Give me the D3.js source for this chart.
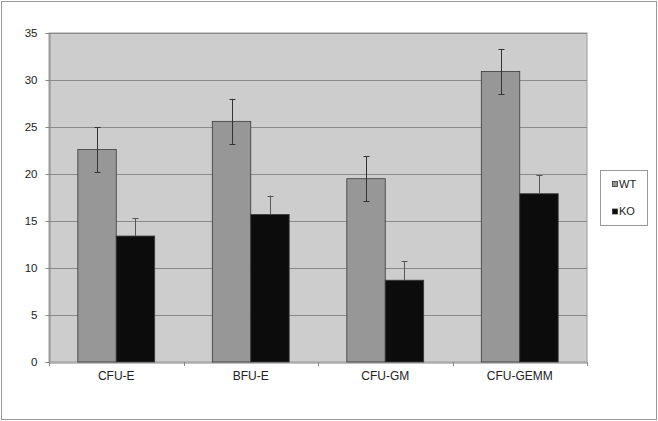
<!DOCTYPE html>
<html>
<head>
<meta charset="utf-8">
<script src="https://cdn.jsdelivr.net/npm/d3@7"></script>
<style>
  body { margin: 0; background: #fff; }
  text { font-family: "Liberation Sans", Arial, sans-serif; fill: #222; }
</style>
</head>
<body>
<svg id="chart" width="658" height="421"></svg>
<script>
// data
const categories = ["CFU-E", "BFU-E", "CFU-GM", "CFU-GEMM"];
const seriesNames = ["WT", "KO"];
const wtValues = [22.6, 25.6, 19.5, 30.9];
const wtErrors = [2.4, 2.4, 2.4, 2.4];
const koValues = [13.4, 15.7, 8.7, 17.9];
const koErrors = [1.9, 2.0, 2.0, 2.0];
const yTicks = [0, 5, 10, 15, 20, 25, 30, 35];

const colors = { WT: "#979797", KO: "#0c0c0c" };

var svg = d3.select("#chart");

// outer frame
svg.append("rect")
  .attr("x", 1.5).attr("y", 1.5)
  .attr("width", 655).attr("height", 418)
  .attr("fill", "#fff")
  .attr("stroke", "#999");

var plot = { left: 49, top: 33, right: 587, bottom: 362 };

var x = d3.scaleBand()
  .domain(categories)
  .range([plot.left, plot.right]);

// two bars + gap of 1.5 bars per category
var barW = x.bandwidth() / 3.5;

var xInner = d3.scaleBand()
  .domain(seriesNames)
  .range([barW * 0.75, barW * 2.75]);

var y = d3.scaleLinear()
  .domain([0, 35])
  .range([plot.bottom, plot.top]);

// plot background
svg.append("rect")
  .attr("x", plot.left).attr("y", plot.top)
  .attr("width", plot.right - plot.left)
  .attr("height", plot.bottom - plot.top)
  .attr("fill", "#cdcdcd")
  .attr("stroke", "#9a9a9a");

// gridlines
svg.append("g")
  .selectAll("line")
  .data(yTicks.slice(1))
  .enter()
  .append("line")
  .attr("x1", plot.left).attr("x2", plot.right)
  .attr("y1", d => y(d) + 0.5).attr("y2", d => y(d) + 0.5)
  .attr("stroke", "#8a8a8a");

// y axis
var yAxis = svg.append("g")
  .attr("transform", "translate(" + (plot.left + 0.5) + ",0)")
  .call(d3.axisLeft(y).tickValues(yTicks).tickSize(4).tickPadding(8));
yAxis.selectAll("text").attr("font-size", 11.5).style("fill", "#222");
yAxis.select(".domain").attr("stroke", "#888");
yAxis.selectAll(".tick line").attr("stroke", "#888");
yAxis.selectAll(".tick").attr("transform", d => "translate(0," + (y(d) + 0.5) + ")");

// x axis
var xAxis = svg.append("g")
  .attr("transform", "translate(0," + (plot.bottom + 0.5) + ")")
  .call(d3.axisBottom(x).tickSize(0).tickPadding(9));
xAxis.select(".domain").attr("stroke", "#888");
xAxis.selectAll("text").attr("font-size", 12).style("fill", "#222");

// x ticks at category boundaries
svg.append("g")
  .selectAll("line")
  .data(categories.concat(["end"]))
  .enter()
  .append("line")
  .attr("x1", (d, i) => Math.round(plot.left + i * x.step()) + 0.5)
  .attr("x2", (d, i) => Math.round(plot.left + i * x.step()) + 0.5)
  .attr("y1", plot.bottom).attr("y2", plot.bottom + 4)
  .attr("stroke", "#888");

var rows = categories.map(function(c, i) {
  return [
    { cat: c, key: "WT", v: wtValues[i], e: wtErrors[i] },
    { cat: c, key: "KO", v: koValues[i], e: koErrors[i] }
  ];
});
var flat = d3.merge(rows);

// bars
svg.append("g")
  .selectAll("rect")
  .data(flat)
  .enter()
  .append("rect")
  .attr("x", d => x(d.cat) + xInner(d.key))
  .attr("y", d => y(d.v))
  .attr("width", xInner.bandwidth())
  .attr("height", d => y(0) - y(d.v))
  .attr("fill", d => colors[d.key])
  .attr("stroke", "#3a3a3a")
  .attr("stroke-width", 0.8);

// error bars
var err = svg.append("g")
  .selectAll("g")
  .data(flat)
  .enter()
  .append("g")
  .attr("stroke", d => d.key == "WT" ? "#333" : "#555")
  .attr("stroke-width", 1);

function cx(d) { return Math.round(x(d.cat) + xInner(d.key) + xInner.bandwidth() / 2) + 0.5; }

err.append("line")
  .attr("x1", cx).attr("x2", cx)
  .attr("y1", d => y(d.v + d.e))
  .attr("y2", d => d.key == "WT" ? y(d.v - d.e) : y(d.v));
err.append("line")
  .attr("x1", d => cx(d) - 3).attr("x2", d => cx(d) + 3)
  .attr("y1", d => Math.round(y(d.v + d.e)) + 0.5)
  .attr("y2", d => Math.round(y(d.v + d.e)) + 0.5);
err.filter(d => d.key == "WT").append("line")
  .attr("x1", d => cx(d) - 3).attr("x2", d => cx(d) + 3)
  .attr("y1", d => Math.round(y(d.v - d.e)) + 0.5)
  .attr("y2", d => Math.round(y(d.v - d.e)) + 0.5);

// legend
var legend = svg.append("g");
legend.append("rect")
  .attr("x", 600.5).attr("y", 170.5)
  .attr("width", 47).attr("height", 55)
  .attr("fill", "#fff")
  .attr("stroke", "#999");

var items = legend.selectAll("g.item")
  .data(seriesNames)
  .enter()
  .append("g")
  .attr("class", "item")
  .attr("transform", (d, i) => "translate(612," + (184 + i * 27.5) + ")");
items.append("rect")
  .attr("x", 0.5).attr("y", -2.5)
  .attr("width", 5).attr("height", 5)
  .attr("fill", d => colors[d])
  .attr("stroke", "#333")
  .attr("stroke-width", 0.8);
items.append("text")
  .attr("x", 7)
  .attr("dy", "0.35em")
  .attr("font-size", 11)
  .text(d => d);
</script>
</body>
</html>
